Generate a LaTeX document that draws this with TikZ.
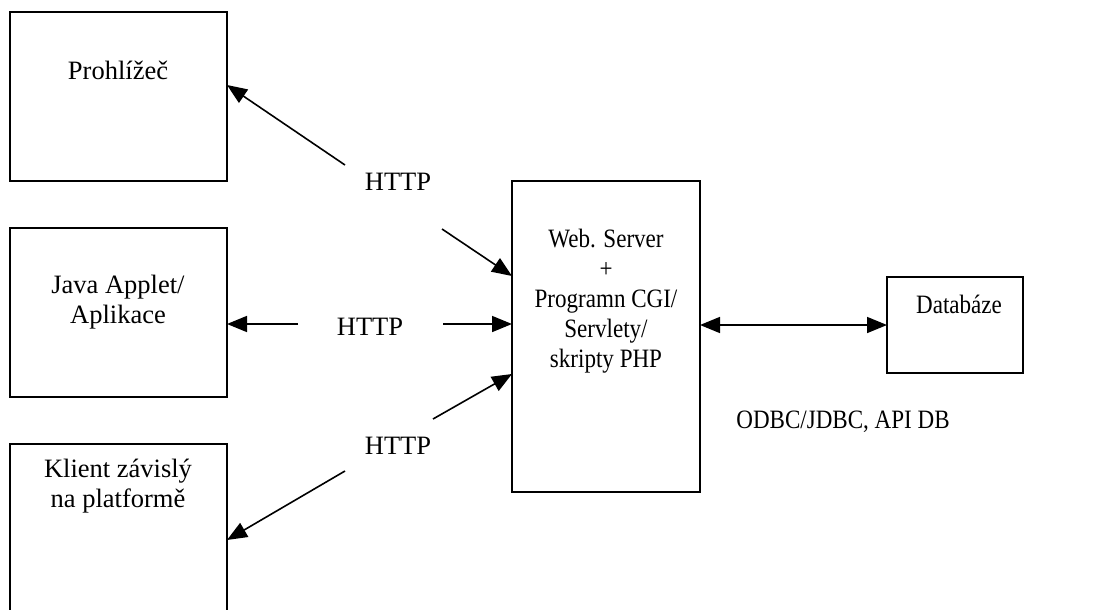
\documentclass[tikz,border=0pt]{standalone}
\usepackage{fontspec}
\setmainfont{Liberation Serif}
\newfontfamily\uzke[FakeStretch=0.87]{Liberation Serif}
\usepackage{tikz}
\usetikzlibrary{positioning}
\usetikzlibrary{calc}
\usetikzlibrary{arrows.meta}
\tikzset{
	blok/.style={draw,line width=1.6pt,inner sep=0pt,outer sep=0pt,minimum width=#1},
	popis/.style={align=center,inner sep=0pt,font=\fontsize{26.5}{30}\selectfont},
	uzkypopis/.style={popis,font=\fontsize{26.5}{30}\selectfont\uzke},
	sipka/.style={line width=1.6pt,-{Triangle[length=20pt,width=16pt]}},
	dvojsipka/.style={line width=1.6pt,{Triangle[length=20pt,width=16pt]}-{Triangle[length=20pt,width=16pt]}}
}
\begin{document}
\begin{tikzpicture}[x=1pt,y=-1pt]
			\useasboundingbox (0,0) rectangle (1103,610);
			\begin{scope}
				\node[blok=217pt,minimum height=169pt] (prohl) at (118.5,96.5) {};
				\node[blok=217pt,minimum height=169pt] (java) at (118.5,312.5) {};
				\node[blok=217pt,minimum height=171pt] (klient) at (118.5,529.5) {};
				\node[blok=188pt,minimum height=311pt] (srv) at (606,336.5) {};
				\node[blok=136pt,minimum height=96pt] (db) at (955,325) {};

				\node[popis] (prohltxt) at (118,70) {Prohlížeč};
				\node[popis] (javatxt) at (118,302) {Java Applet/\\Aplikace};
				\node[popis] (klienttxt) at (118,486) {Klient závislý\\na platformě};
				\node[uzkypopis] (srvtxt) at (606,301) {Web. Server\\+\\Programn CGI/\\Servlety/\\skripty PHP};
				\node[uzkypopis] (dbtxt) at (959,304) {Databáze};
				\node[uzkypopis] (odbc) at (843,422) {ODBC/JDBC, API DB};

				\node[popis] (http1) at (398,182) {HTTP};
				\node[popis] (http2) at (370,327) {HTTP};
				\node[popis] (http3) at (398,446) {HTTP};

				\coordinate (h1a) at (345,165);
				\coordinate (h1b) at (442,229);
				\coordinate (h2a) at (298,324);
				\coordinate (h2b) at (443,324);
				\coordinate (h3a) at (433,419);
				\coordinate (h3b) at (345,471);

				\draw[sipka] (h1a) -- ([yshift=11.5pt]prohl.east);
				\draw[sipka] (h1b) -- ([yshift=60.5pt]srv.west);
				\draw[sipka] (h2a) -- (java.east |- h2a);
				\draw[sipka] (h2b) -- (srv.west |- h2b);
				\draw[sipka] (h3a) -- ([yshift=-37.5pt]srv.west);
				\draw[sipka] (h3b) -- ([yshift=-10.5pt]klient.east);
				\draw[dvojsipka] (srv.east |- db.west) -- (db.west);
			\end{scope}
		\end{tikzpicture}
\end{document}
